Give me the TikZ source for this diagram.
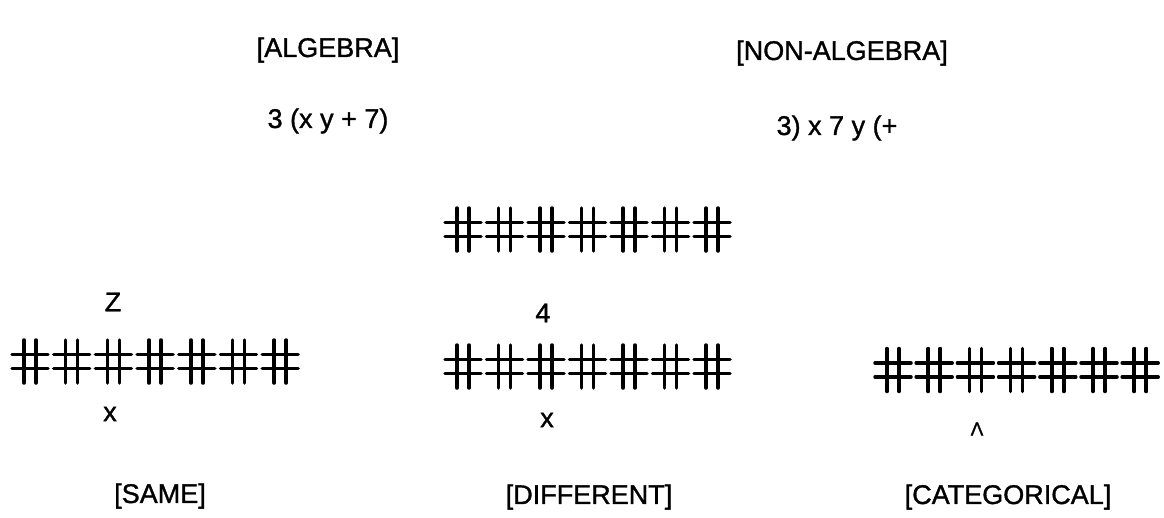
\documentclass[tikz,border=0pt]{standalone}
\usepackage{fontspec}
\setmainfont{Liberation Sans}
\newfontfamily\heavysans{Liberation Sans}[FakeBold=1.2]
\begin{document}
\begin{tikzpicture}[x=1pt,y=-1pt,
  hashline/.style={line width=3.5pt,line cap=round},
  lbl/.style={font=\heavysans\fontsize{27}{30}\selectfont,inner sep=0pt},
  hashmark/.pic={\draw[hashline] (-18,-7)--(18,-7) (-18,7)--(18,7) (-6,-21.5)--(-6,21.5) (6,-21.5)--(6,21.5);}]
\useasboundingbox (0,0) rectangle (1164,517);
% titles
\node[lbl] (alg) at (328,50) {[ALGEBRA]};
\node[lbl] (nonalg) at (842,53) {[NON-ALGEBRA]};
\node[lbl] (expr1) at (328,121) {3 (x y + 7)};
\node[lbl] (expr2) at (837,128) {3) x 7 y (+};
% hash rows
\foreach \i in {0,...,6} {
  \pic at ({30+41.7*\i},361.5) {hashmark};
  \pic at ({463+41.5*\i},229.5) {hashmark};
  \pic at ({463+41.5*\i},366.5) {hashmark};
  \pic at ({893+41.2*\i},370) {hashmark};
}
% marks
\node[lbl] (z) at (113,302) {Z};
\node[lbl] (x1) at (110,414) {x};
\node[lbl] (four) at (543,313) {4};
\node[lbl] (x2) at (547,420) {x};
\node[lbl,font=\heavysans\fontsize{19}{20}\selectfont] (caret) at (977,429) {Λ};
% bottom labels
\node[lbl] (same) at (160,496) {[SAME]};
\node[lbl] (diff) at (589,497) {[DIFFERENT]};
\node[lbl] (cat) at (1008,497) {[CATEGORICAL]};
\end{tikzpicture}
\end{document}
